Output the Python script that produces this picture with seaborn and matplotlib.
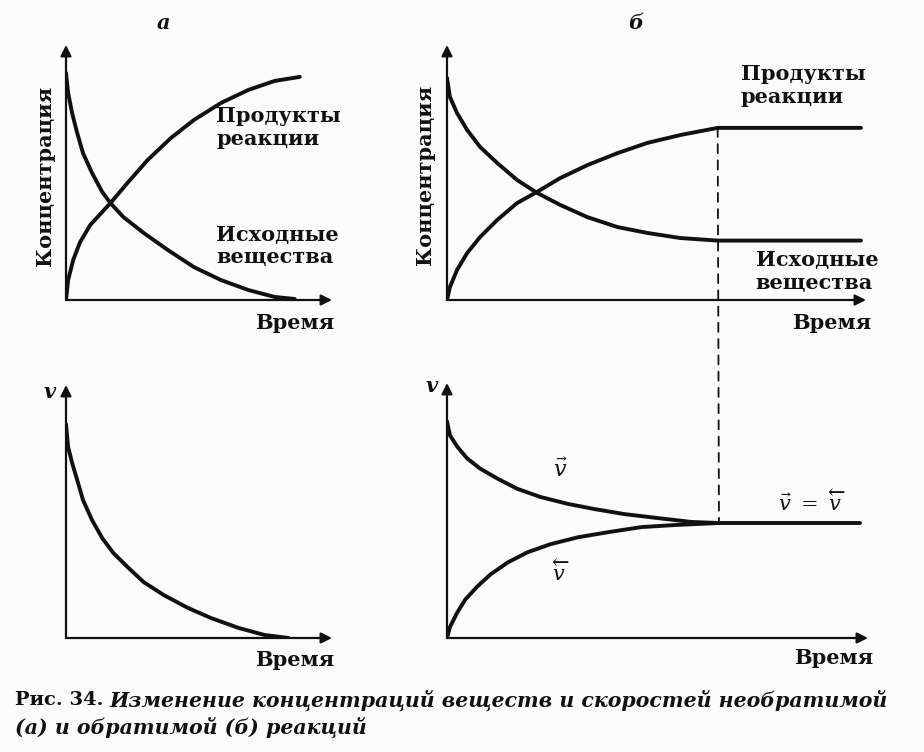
import numpy as np
import pandas as pd
import seaborn as sns
import matplotlib.pyplot as plt
from matplotlib.patches import ConnectionPatch

# --- panel a (irreversible), concentration vs time ---
a_time_start = [0, 0.08, 0.23, 0.42, 0.64, 0.98, 1.36, 1.67, 2.16, 2.92, 3.83, 4.81, 5.83, 6.86, 7.84, 8.6]
a_start = [8.9, 8.12, 7.33, 6.55, 5.76, 4.98, 4.24, 3.80, 3.25, 2.63, 1.96, 1.29, 0.78, 0.39, 0.12, 0.04]
a_time_prod = [0, 0.08, 0.27, 0.53, 0.91, 1.36, 1.67, 2.31, 3.07, 3.94, 4.81, 5.83, 6.86, 7.84, 8.79]
a_prod = [0, 0.78, 1.57, 2.27, 2.94, 3.45, 3.80, 4.59, 5.49, 6.35, 7.06, 7.73, 8.24, 8.59, 8.75]

# --- panel b (reversible), concentration vs time ---
b_time_start = [0, 0.07, 0.24, 0.48, 0.79, 1.2, 1.67, 2.15, 2.70, 3.35, 4.07, 4.78, 5.57, 6.46, 9.88]
b_start = [8.71, 7.96, 7.33, 6.67, 6.0, 5.37, 4.71, 4.20, 3.73, 3.25, 2.86, 2.63, 2.43, 2.33, 2.33]
b_time_prod = [0, 0.07, 0.24, 0.48, 0.79, 1.2, 1.67, 2.15, 2.70, 3.35, 4.07, 4.78, 5.57, 6.46, 9.88]
b_prod = [0, 0.51, 1.18, 1.84, 2.47, 3.14, 3.80, 4.24, 4.78, 5.29, 5.76, 6.16, 6.47, 6.75, 6.75]

# --- rates ---
va_time = [0, 0.08, 0.23, 0.42, 0.64, 0.98, 1.36, 1.78, 2.31, 2.92, 3.67, 4.58, 5.45, 6.48, 7.46, 8.37]
va = [8.45, 7.55, 6.92, 6.25, 5.45, 4.66, 3.95, 3.36, 2.81, 2.21, 1.70, 1.19, 0.79, 0.40, 0.12, 0.0]
vb_time_fwd = [0, 0.07, 0.24, 0.48, 0.79, 1.2, 1.67, 2.22, 2.87, 3.49, 4.21, 5.02, 5.81, 6.46, 9.81]
vb_fwd = [8.5, 7.95, 7.51, 7.04, 6.64, 6.25, 5.85, 5.53, 5.26, 5.06, 4.86, 4.70, 4.55, 4.51, 4.51]
vb_time_rev = [0, 0.07, 0.24, 0.43, 0.72, 1.03, 1.44, 1.91, 2.46, 3.11, 3.83, 4.62, 5.41, 6.46]
vb_rev = [0, 0.43, 0.99, 1.50, 2.02, 2.49, 2.96, 3.36, 3.68, 3.95, 4.15, 4.35, 4.43, 4.51]

t_eq = 6.46  # equilibrium moment (dashed line)

ink = '#111111'
serif = 'DejaVu Serif'

sns.set_theme(style='white')
plt.rcParams['font.family'] = [serif]
plt.rcParams['mathtext.fontset'] = 'dejavuserif'

fig = plt.figure(figsize=(9.24, 7.52), dpi=100, facecolor='#fbfbfb')
W, H = 924, 752


def px_axes(x0, y_bot, x1, y_top):
    return fig.add_axes([x0 / W, 1 - y_bot / H, (x1 - x0) / W, (y_bot - y_top) / H])


ax_a = px_axes(66, 300, 332, 45)
ax_b = px_axes(447, 300, 866, 45)
ax_va = px_axes(66, 638, 332, 385)
ax_vb = px_axes(447, 638, 868, 383)


def curve(ax, t, c):
    df = pd.DataFrame({'t': t, 'c': c})
    sns.lineplot(data=df, x='t', y='c', ax=ax, color=ink, lw=2.8,
                 sort=False, legend=False, solid_capstyle='round',
                 solid_joinstyle='round')


def frame(ax):
    ax.set_xlim(0, 10)
    ax.set_ylim(0, 10)
    ax.set_facecolor('none')
    ax.axis('off')
    arrow = dict(arrowstyle='-|>', lw=1.6, color=ink, mutation_scale=16,
                 shrinkA=0, shrinkB=0)
    ax.annotate('', xy=(1, 0), xytext=(0, 0), xycoords='axes fraction',
                arrowprops=arrow)
    ax.annotate('', xy=(0, 1), xytext=(0, 0), xycoords='axes fraction',
                arrowprops=arrow)


lab = dict(fontsize=15, fontweight='bold', color=ink, family=serif)

# a: concentrations
curve(ax_a, a_time_start, a_start)
curve(ax_a, a_time_prod, a_prod)
frame(ax_a)
ax_a.text(5.64, 7.6, 'Продукты\nреакции', va='top', ha='left', linespacing=1.15, **lab)
ax_a.text(5.64, 2.95, 'Исходные\nвещества', va='top', ha='left', linespacing=1.15, **lab)
ax_a.text(10.1, -0.9, 'Время', ha='right', va='center', **lab)
ax_a.text(-0.8, 4.86, 'Концентрация', rotation=90, ha='center', va='center', **lab)
ax_a.text(3.67, 10.85, 'а', ha='center', va='center', style='italic', **lab)

# b: concentrations
curve(ax_b, b_time_start, b_start)
curve(ax_b, b_time_prod, b_prod)
frame(ax_b)
ax_b.text(7.01, 9.25, 'Продукты\nреакции', va='top', ha='left', linespacing=1.15, **lab)
ax_b.text(7.37, 1.95, 'Исходные\nвещества', va='top', ha='left', linespacing=1.15, **lab)
ax_b.text(10.12, -0.9, 'Время', ha='right', va='center', **lab)
ax_b.text(-0.53, 4.9, 'Концентрация', rotation=90, ha='center', va='center', **lab)
ax_b.text(4.5, 10.85, 'б', ha='center', va='center', style='italic', **lab)

# a: rate
curve(ax_va, va_time, va)
frame(ax_va)
ax_va.text(-0.6, 9.72, 'v', ha='center', va='center', style='italic', **lab)
ax_va.text(10.1, -0.87, 'Время', ha='right', va='center', **lab)

# b: forward and reverse rates
curve(ax_vb, vb_time_fwd, vb_fwd)
curve(ax_vb, vb_time_rev, vb_rev)
frame(ax_vb)
ax_vb.text(-0.36, 9.88, 'v', ha='center', va='center', style='italic', **lab)
ax_vb.text(10.12, -0.79, 'Время', ha='right', va='center', **lab)
ax_vb.text(2.7, 6.56, r'$\vec{v}$', ha='center', va='center', fontsize=16, color=ink)
ax_vb.text(2.7, 2.61, r'$\overleftarrow{v}$', ha='center', va='center', fontsize=15, color=ink)
ax_vb.text(8.68, 5.34, r'$\vec{v}\ =\ \overleftarrow{v}$', ha='center', va='center',
           fontsize=15, color=ink)

# dashed line marking equilibrium, runs through both right panels
con = ConnectionPatch(xyA=(t_eq, b_prod[-2]), coordsA=ax_b.transData,
                      xyB=(t_eq, vb_fwd[-2]), coordsB=ax_vb.transData,
                      color=ink, lw=1.3, linestyle=(0, (5, 4)))
fig.add_artist(con)

# caption
cap = dict(fontweight='bold', color=ink, family=serif, va='center')
r = fig.canvas.get_renderer()
t1 = fig.text(15 / W, 1 - 700 / H, 'Рис. 34.', fontsize=14, **cap)
bb = t1.get_window_extent(r)
fig.text((bb.x1 + 6) / W, 1 - 700 / H,
         'Изменение концентраций веществ и скоростей необратимой',
         style='italic', fontsize=14.8, **cap)
fig.text(15 / W, 1 - 727 / H, '(а) и обратимой (б) реакций', style='italic',
         fontsize=14.8, **cap)

fig.savefig('out.png', dpi=100, facecolor=fig.get_facecolor())
